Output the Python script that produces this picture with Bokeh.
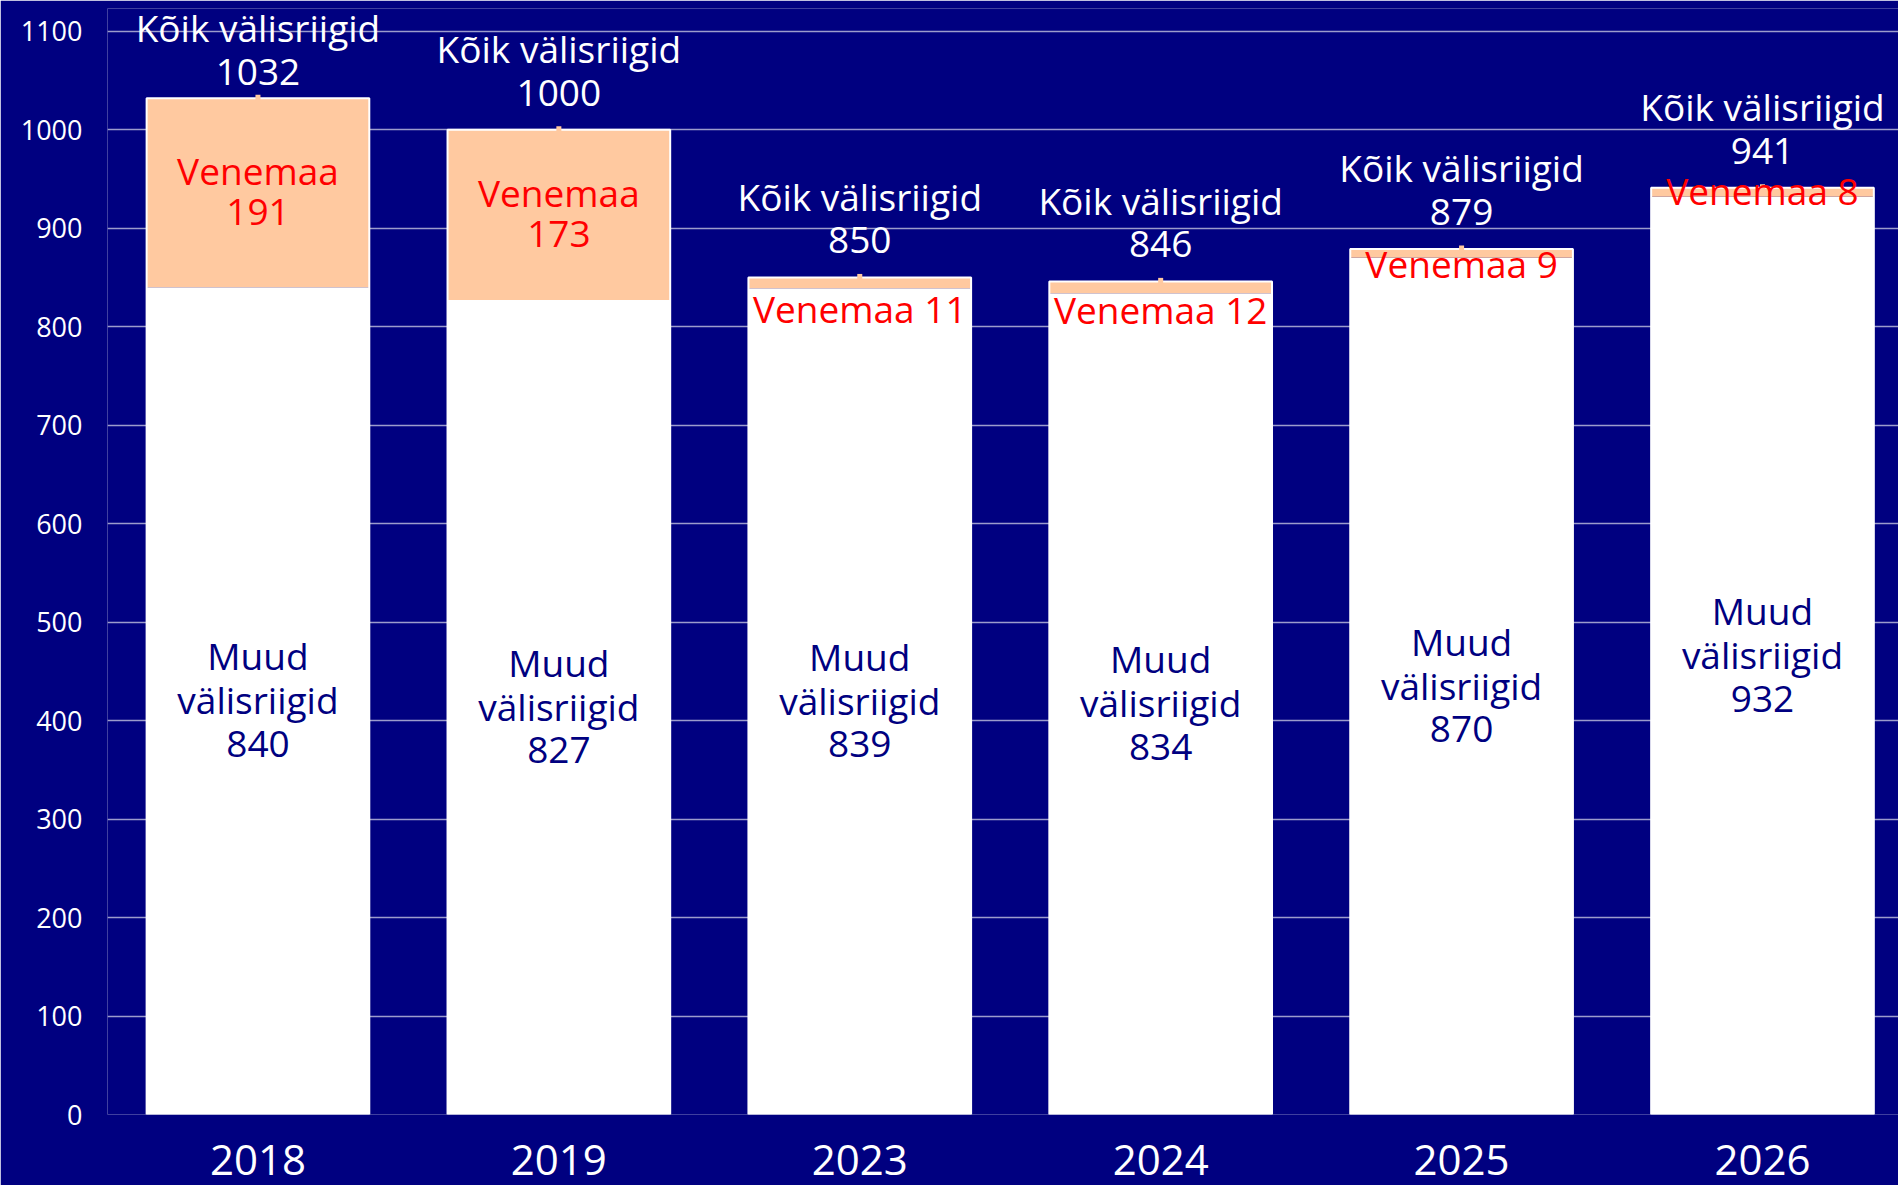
from bokeh.plotting import figure
from bokeh.models import Range1d, FixedTicker, ColumnDataSource
from bokeh.core.properties import value
from bokeh.embed import file_html
from bokeh.resources import INLINE

# ---- data ----
years = ["2018", "2019", "2023", "2024", "2025", "2026"]
muud = [840, 827, 839, 834, 870, 932]          # Muud välisriigid
venemaa = [191, 173, 11, 12, 9, 8]              # Venemaa
koik = [1032, 1000, 850, 846, 879, 941]         # Kõik välisriigid
y_ticks = [0, 100, 200, 300, 400, 500, 600, 700, 800, 900, 1000, 1100]

# ---- layout / style ----
BG = "#000080"
PEACH = "#FFC9A0"
NAVY = "#000080"
RED = "#FF0000"
FONT = "Open Sans"
FRAME_W, FRAME_H = 1791, 1106
Y_END = 1123.1
X_END = 5.952
PPU = FRAME_H / Y_END          # pixels per data unit
LBL_SIZE = 37
CAP = 0.72 * LBL_SIZE
BASE_FIX = 15                  # px: renderer draws alphabetic baseline lower
# vertical nudge (px, downward) of the single-line Venemaa labels
ven_nudge_px = [0, 0, 27, 24, 12, 0]

xs = [i + 0.5 for i in range(len(years))]
px = lambda v: v / PPU

p = figure(frame_width=FRAME_W, frame_height=FRAME_H,
           x_range=Range1d(0, X_END), y_range=Range1d(0, Y_END),
           output_backend="svg", toolbar_location=None,
           min_border_left=107, min_border_right=0, min_border_top=8,
           min_border_bottom=71)
p.background_fill_color = BG
p.border_fill_color = BG
p.outline_line_color = None

p.xgrid.grid_line_color = None
p.ygrid.ticker = FixedTicker(ticks=y_ticks)
p.ygrid.grid_line_color = "#9C9CCC"
p.ygrid.grid_line_width = 1.5

# axes
p.yaxis.ticker = FixedTicker(ticks=y_ticks)
p.yaxis.axis_line_color = None
p.yaxis.major_tick_line_color = None
p.yaxis.minor_tick_line_color = None
p.yaxis.major_label_text_color = "white"
p.yaxis.major_label_text_font = FONT
p.yaxis.major_label_text_font_size = "27px"
p.yaxis.major_label_standoff = 19

p.xaxis.ticker = FixedTicker(ticks=xs)
p.xaxis.major_label_overrides = {x: y for x, y in zip(xs, years)}
p.xaxis.axis_line_color = None
p.xaxis.major_tick_line_color = None
p.xaxis.minor_tick_line_color = None
p.xaxis.major_label_text_color = "white"
p.xaxis.major_label_text_font = FONT
p.xaxis.major_label_text_font_size = "42px"
p.xaxis.major_label_standoff = 24

BW = 0.74
src = ColumnDataSource(dict(x=xs, muud=muud, ven=venemaa, koik=koik))
p.vbar(x="x", bottom=0, top="muud", width=BW, source=src,
       fill_color="white", line_color=None)
p.vbar(x="x", bottom="muud", top="koik", width=BW, source=src,
       fill_color=PEACH, line_color=None)
p.vbar(x="x", bottom=0, top="koik", width=BW, source=src,
       fill_color=None, line_color="white", line_width=2)
p.rect(x="x", y="koik", width=5, height=7, width_units="screen",
       height_units="screen", source=src, fill_color=PEACH, line_color=None)

def txt(x, y, t, color):
    p.text(x=x, y=[v + px(BASE_FIX) for v in y], text=t, text_align="center",
           text_baseline="alphabetic",
           text_color=color, text_font=value(FONT),
           text_font_size=f"{LBL_SIZE}px")

# Kõik välisriigid labels
num_base = [min(k + px(22), Y_END - px(78)) for k in koik]
txt(xs, num_base, [str(k) for k in koik], "white")
txt(xs, [b + px(44) for b in num_base], ["Kõik välisriigid"] * len(xs), "white")

# Muud välisriigid labels (centred in white segment)
mc = [m / 2 for m in muud]
txt(xs, [c + px(30) for c in mc], ["Muud"] * len(xs), NAVY)
txt(xs, [c - px(14) for c in mc], ["välisriigid"] * len(xs), NAVY)
txt(xs, [c - px(58) for c in mc], [str(m) for m in muud], NAVY)

# Venemaa labels
two_x, two_y1, two_y2, two_t = [], [], [], []
one_x, one_y, one_t = [], [], []
for x, m, k, v, n in zip(xs, muud, koik, venemaa, ven_nudge_px):
    c = (m + k) / 2
    if (k - m) * PPU > 80:
        two_x.append(x)
        two_y1.append(c + px(7.5))
        two_y2.append(c - px(34.5))
        two_t.append(str(v))
    else:
        one_x.append(x)
        one_y.append(c - px(n) - px(CAP / 2))
        one_t.append(f"Venemaa {v}")
txt(two_x, two_y1, ["Venemaa"] * len(two_x), RED)
txt(two_x, two_y2, two_t, RED)
txt(one_x, one_y, one_t, RED)

open("out.html", "w").write(file_html(p, INLINE))
